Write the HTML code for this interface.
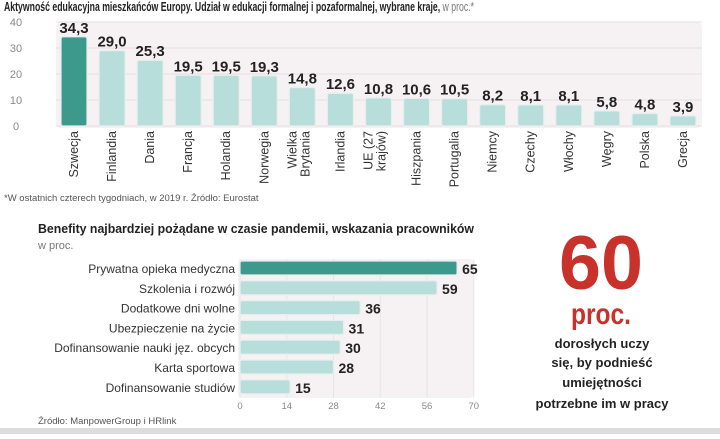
<!DOCTYPE html>
<html><head><meta charset="utf-8"><style>
body{margin:0;background:#fff;width:720px;height:434px;overflow:hidden;font-family:"Liberation Sans",sans-serif;}
svg text{font-family:"Liberation Sans",sans-serif;}
</style></head><body>
<svg id="s" width="720" height="434" viewBox="0 0 720 434">
<text x="4" y="11" font-size="12.5" font-weight="bold" fill="#222" textLength="470" lengthAdjust="spacingAndGlyphs">Aktywność edukacyjna mieszkańców Europy. Udział w edukacji formalnej i pozaformalnej, wybrane kraje, <tspan font-weight="normal" fill="#777">w proc.*</tspan></text>
<rect x="56" y="22" width="646" height="106" rx="5" fill="#f6f1f3"/>
<g id="topg"></g>
<text x="4" y="201" font-size="9.5" fill="#555">*W ostatnich czterech tygodniach, w 2019 r. Źródło: Eurostat</text>
<text x="38" y="233" font-size="12.5" font-weight="bold" fill="#222" textLength="436" lengthAdjust="spacingAndGlyphs">Benefity najbardziej pożądane w czasie pandemii, wskazania pracowników</text>
<text x="38" y="249" font-size="11" fill="#777">w proc.</text>
<rect x="238" y="259" width="236" height="139" rx="5" fill="#f6f1f3"/>
<g id="botg"></g>
<text x="38" y="424" font-size="9.5" fill="#555">Źródło: ManpowerGroup i HRlink</text>
<text x="601" y="289" font-size="76" font-weight="bold" fill="#c8322a" text-anchor="middle" textLength="84" lengthAdjust="spacingAndGlyphs">60</text>
<text x="601" y="324" font-size="30" font-weight="bold" fill="#c8322a" text-anchor="middle" textLength="60" lengthAdjust="spacingAndGlyphs">proc.</text>
<g font-size="13" font-weight="bold" fill="#222" text-anchor="middle">
<text x="602" y="348">dorosłych uczy</text><text x="602" y="367">się, by podnieść</text><text x="602" y="387">umiejętności</text><text x="602" y="408">potrzebne im w pracy</text></g>
<rect x="0" y="428" width="720" height="6" fill="#ddd"/>
</svg>
<script>
const countries=["Szwecja","Finlandia","Dania","Francja","Holandia","Norwegia","Wielka|Brytania","Irlandia","UE (27|krajów)","Hiszpania","Portugalia","Niemcy","Czechy","Włochy","Węgry","Polska","Grecja"];
const shares=[34.3,29.0,25.3,19.5,19.5,19.3,14.8,12.6,10.8,10.6,10.5,8.2,8.1,8.1,5.8,4.8,3.9];
const yTicks=[0,10,20,30,40];
const benefits=["Prywatna opieka medyczna","Szkolenia i rozwój","Dodatkowe dni wolne","Ubezpieczenie na życie","Dofinansowanie nauki jęz. obcych","Karta sportowa","Dofinansowanie studiów"];
const benefitVals=[65,59,36,31,30,28,15];
const xTicks=[0,14,28,42,56,70];
const NS="http://www.w3.org/2000/svg";
function mk(p,t,a,txt){const e=document.createElementNS(NS,t);for(const k in a)e.setAttribute(k,a[k]);if(txt!=null)e.textContent=txt;p.appendChild(e);return e;}
const topG=document.getElementById('topg');
const y=v=>126-v*2.6;const xc=i=>74+i*38.06;
yTicks.forEach(t=>{
 const l=mk(topG,'line',{x1:56,x2:702,y1:y(t),y2:y(t),stroke:'#e6dfe2'});
 
 
 const tx=mk(topG,'text',{x:16,y:y(t)+4,'font-size':11,fill:'#888','text-anchor':'middle'},String(t));
 
 
});
shares.forEach((v,i)=>{
 const r=mk(topG,'rect',{x:xc(i)-13,y:y(v),width:26,height:v*2.6,rx:2,fill:i==0?'#3d998c':'#b8dedb',stroke:'#e8eeee','stroke-width':1.2});
 
 
 const t=mk(topG,'text',{x:xc(i),y:y(v)-4,'font-size':15,'font-weight':'bold',fill:'#222','text-anchor':'middle'},v.toFixed(1).replace('.',','));
 
 
 const parts=countries[i].split('|');
 parts.forEach((p,j)=>{
  const off=parts.length==2?(j==0?-6:7):4;
  const c=mk(topG,'text',{transform:`translate(${xc(i)+off},131) rotate(-90)`,'font-size':12.5,fill:'#333','text-anchor':'end'},p);
  
  
 });
});
const botG=document.getElementById('botg');
const bx=v=>240+v*3.34;const by=i=>261+i*19.8;
xTicks.forEach(t=>{
 const l=mk(botG,'line',{x1:bx(t),x2:bx(t),y1:259,y2:398,stroke:'#ebe4e7'});
 
 
 const tx=mk(botG,'text',{x:bx(t),y:409,'font-size':9.5,fill:'#888','text-anchor':'middle'},String(t));
 
 
});
benefitVals.forEach((v,i)=>{
 const r=mk(botG,'rect',{x:240,y:by(i),width:v*3.34,height:14,rx:2,fill:i==0?'#3d998c':'#b8dedb',stroke:'#e8eeee','stroke-width':1.2});
 
 
 const t=mk(botG,'text',{x:bx(v)+5,y:by(i)+13,'font-size':14,'font-weight':'bold',fill:'#222'},String(v));
 
 
 const c=mk(botG,'text',{x:235,y:by(i)+12,'font-size':12,fill:'#333','text-anchor':'end'},benefits[i]);
 
 
});
</script>
</body></html>
